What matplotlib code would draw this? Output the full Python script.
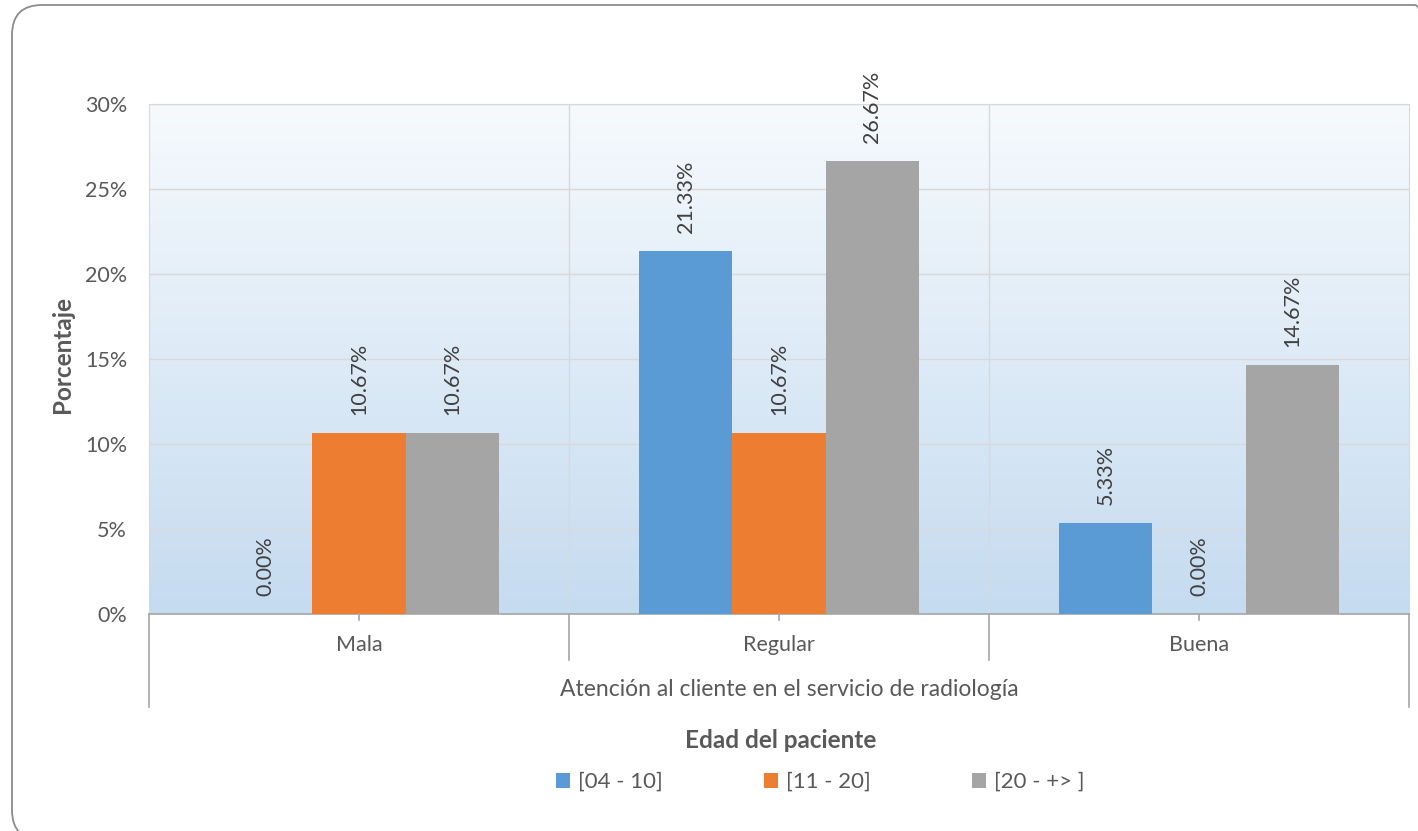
import numpy as np
import matplotlib.pyplot as plt
from matplotlib.patches import FancyBboxPatch, Patch
from matplotlib.transforms import blended_transform_factory

plt.rcParams['font.family'] = ['Lato', 'DejaVu Sans']

categories = ['Mala', 'Regular', 'Buena']
series_names = ['[04 - 10]', '[11 - 20]', '[20 - +> ]']
values = {
    '[04 - 10]': [0.00, 21.33, 5.33],
    '[11 - 20]': [10.67, 10.67, 0.00],
    '[20 - +> ]': [10.67, 26.67, 14.67],
}
colors = ['#5B9BD5', '#ED7D31', '#A5A5A5']
y_ticks = [0, 5, 10, 15, 20, 25, 30]

W, H = 1418, 831
fig = plt.figure(figsize=(W / 100, H / 100), dpi=100)
fig.patch.set_facecolor('white')

# rounded outer frame (pixel coordinates)
frame = FancyBboxPatch((12, -9), 1433, 835, boxstyle='round,pad=0,rounding_size=30',
                       transform=None, fill=False, edgecolor='#8C8C8C', linewidth=1.3)
fig.patches.append(frame)

left, right, top, bottom = 149, 1409, 104, 614
ax = fig.add_axes([left / W, 1 - bottom / H, (right - left) / W, (bottom - top) / H])

# vertical gradient background of the plot area
grad = np.linspace(0, 1, 256).reshape(-1, 1)
c_top = np.array([246, 250, 253]) / 255
c_bot = np.array([197, 219, 240]) / 255
img = c_top + (c_bot - c_top) * grad[..., None]
ax.imshow(img, extent=[0, 1, 0, 1], transform=ax.transAxes, aspect='auto', zorder=0)

x = np.arange(len(categories))
bw = 1 / 4.5
for i, name in enumerate(series_names):
    vals = values[name]
    xs = x + (i - 1) * bw
    ax.bar(xs, vals, width=bw, color=colors[i], zorder=3)
    for xi, v in zip(xs, vals):
        ax.annotate(f'{v:.2f}%', (xi, v), xytext=(0, 13), textcoords='offset points',
                    rotation=90, ha='center', va='bottom', fontsize=15.5,
                    color='#404040', zorder=4)

ax.set_xlim(-0.5, 2.5)
ax.set_ylim(0, 30)
ax.set_yticks(y_ticks)
ax.set_yticklabels([f'{t}%' for t in y_ticks])
ax.tick_params(axis='y', length=0, pad=15.8, labelsize=15.5, labelcolor='#595959')
ax.set_xticks([])

for yv in y_ticks[1:]:
    ax.axhline(yv, color='#D9D9D9', lw=1, zorder=1)
for xv in [0.5, 1.5]:
    ax.axvline(xv, color='#D9D9D9', lw=1, zorder=1)

for s in ['left', 'right', 'top']:
    ax.spines[s].set_color('#D9D9D9')
ax.spines['bottom'].set_color('#A6A6A6')
ax.spines['bottom'].set_linewidth(1.2)

# multi-level category axis lines below the plot
tr = blended_transform_factory(ax.transData, ax.transAxes)
ph = bottom - top
for xv in [-0.5, 2.5]:
    ax.plot([xv, xv], [0, -(707 - bottom) / ph], transform=tr, color='#A6A6A6',
            lw=1.2, clip_on=False, zorder=5)
for xv in [0.5, 1.5]:
    ax.plot([xv, xv], [0, -(660 - bottom) / ph], transform=tr, color='#A6A6A6',
            lw=1.2, clip_on=False, zorder=5)
for xv in x:
    ax.plot([xv, xv], [0, -6 / ph], transform=tr, color='#A6A6A6',
            lw=1.2, clip_on=False, zorder=5)
    ax.text(xv, -(645 - bottom) / ph, categories[xv], transform=tr, ha='center',
            va='center', fontsize=15.5, color='#595959')

fig.text(789 / W, 1 - 690 / H,
         'Atención al cliente en el servicio de radiología',
         ha='center', va='center', fontsize=16.5, color='#595959')
fig.text(781 / W, 1 - 740 / H, 'Edad del paciente', ha='center', va='center',
         fontsize=17.5, fontweight='bold', color='#595959')
fig.text(63 / W, 1 - 355 / H, 'Porcentaje', rotation=90, ha='center', va='center',
         fontsize=17.5, fontweight='bold', color='#595959')

handles = [Patch(facecolor=c, edgecolor='none') for c in colors]
leg = fig.legend(handles, series_names, loc='center', bbox_to_anchor=(820 / W, 1 - 782 / H),
                 ncol=3, frameon=False, fontsize=16, handlelength=0.65, handleheight=0.65,
                 handletextpad=0.35, columnspacing=4.55)
for t in leg.get_texts():
    t.set_color('#595959')

fig.savefig('out.png', dpi=100)
